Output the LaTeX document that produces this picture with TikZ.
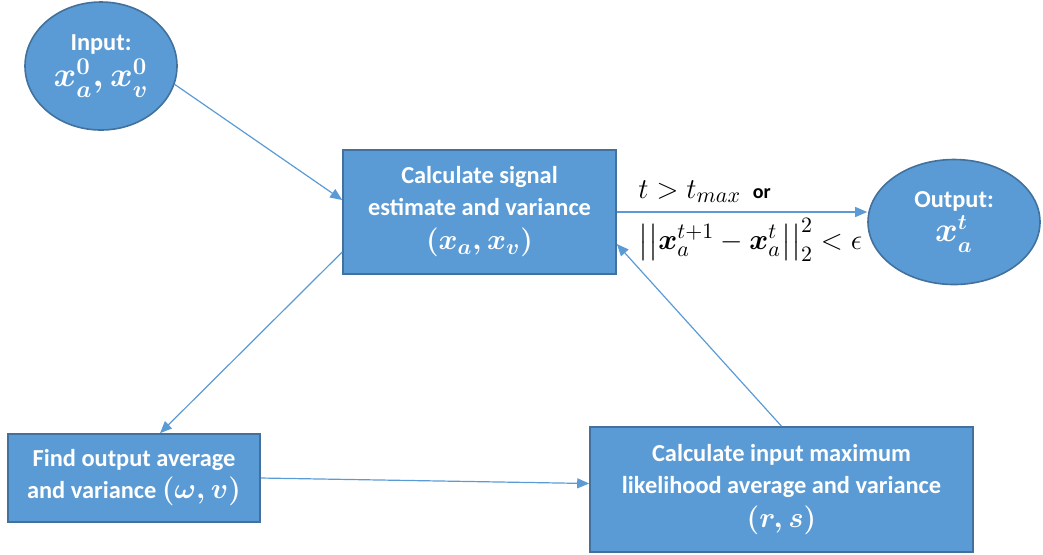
\documentclass[tikz,border=0pt]{standalone}
\usepackage{amsmath,amssymb,bm}
\usepackage{fontspec}
\setmainfont{Carlito}
\usetikzlibrary{positioning,arrows.meta,shapes.geometric}
\definecolor{boxblue}{HTML}{5B9BD5}
\definecolor{boxedge}{HTML}{41719C}
\newcommand{\mathsz}{\fontsize{15}{17}\selectfont\boldmath}
\newcommand{\mathbig}{\fontsize{17}{19}\selectfont\boldmath}

\begin{document}
\begin{tikzpicture}[
    x=0.5pt, y=-0.5pt,
    font=\fontsize{12.2}{16}\selectfont\bfseries,
    blob/.style ={ellipse, draw=boxedge, line width=0.8pt, fill=boxblue, text=white, align=center, inner sep=0pt},
    stage/.style={rectangle, draw=boxedge, line width=0.8pt, fill=boxblue, text=white, align=center, inner sep=2pt},
    flow/.style ={-{Triangle[length=6pt,width=5pt]}, draw=boxblue, line width=0.6pt},
    cond/.style ={font=\fontsize{15}{17}\selectfont, text=black, inner sep=1pt},
  ]
  \useasboundingbox (0,0) rectangle (1043,554);
  \node[blob, minimum width=76pt, minimum height=64pt] (input) at (101,66)
    {Input:\\[2pt] {\mathbig$\bm{x}_a^0, \bm{x}_v^0$}};
  \node[stage, minimum width=136.5pt, minimum height=62pt] (calc) at (479.5,212)
    {Calculate signal\\ estimate and variance\\[1pt] {\mathsz$(\bm{x}_a, \bm{x}_v)$}};
  \node[blob, minimum width=86pt, minimum height=62.5pt] (output) at (954,222)
    {Output:\\[1pt] {\fontsize{16}{18}\selectfont\boldmath$\bm{x}_a^t$}};
  \node[stage, minimum width=126pt, minimum height=44pt] (find) at (134,478)
    {Find output average\\ and variance {\mathsz$(\omega, v)$}};
  \node[stage, minimum width=191.5pt, minimum height=62.5pt] (mle) at (781.5,489.5)
    {Calculate input maximum\\ likelihood average and variance\\[1pt] {\mathsz$(r, s)$}};
  % arrows
  \draw[flow] (input.-14) -- ([yshift=6pt]calc.west);
  \draw[flow] (calc.east) -- (calc.east -| output.west);
  \draw[flow] ([yshift=-20pt]calc.west) -- ([xshift=13pt]find.north);
  \draw[flow] (find.east) -- ([yshift=3pt]mle.west);
  \draw[flow] (mle.north) -- ([yshift=-16pt]calc.east);
  % stopping rule
  \node[cond, anchor=south west] (stopa) at (636,205)
    {$t > t_{max}$ \,{\fontsize{10}{11}\selectfont\bfseries or}};
  \node[cond, anchor=north west] (stopb) at (636,216)
    {$\big|\big|\bm{x}_a^{t+1} - \bm{x}_a^t\big|\big|_2^2 < \epsilon$};
\end{tikzpicture}
\end{document}
